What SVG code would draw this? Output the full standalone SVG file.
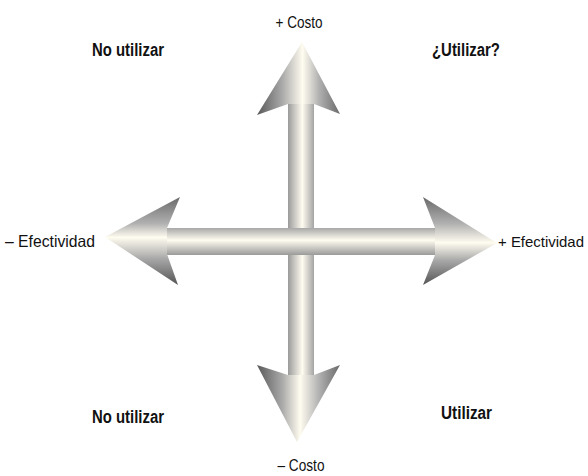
<svg xmlns="http://www.w3.org/2000/svg" width="588" height="476" viewBox="0 0 588 476">
<defs>
<linearGradient id="vShaft" gradientUnits="userSpaceOnUse" x1="288" y1="0" x2="314" y2="0">
<stop offset="0" stop-color="#9a9a9a"/><stop offset="0.55" stop-color="#fffcf0"/><stop offset="1" stop-color="#a4a4a4"/>
</linearGradient>
<linearGradient id="hShaft" gradientUnits="userSpaceOnUse" x1="0" y1="228" x2="0" y2="255">
<stop offset="0" stop-color="#a8a8a8"/><stop offset="0.45" stop-color="#fffcf0"/><stop offset="1" stop-color="#9a9a9a"/>
</linearGradient>
<linearGradient id="upHead" gradientUnits="userSpaceOnUse" x1="257" y1="0" x2="340" y2="0">
<stop offset="0" stop-color="#595959"/><stop offset="0.3" stop-color="#a8a8a8"/><stop offset="0.55" stop-color="#fffcf0"/><stop offset="0.75" stop-color="#b0b0b0"/><stop offset="1" stop-color="#6a6a6a"/>
</linearGradient>
<linearGradient id="downHead" gradientUnits="userSpaceOnUse" x1="257" y1="0" x2="340" y2="0">
<stop offset="0" stop-color="#595959"/><stop offset="0.3" stop-color="#a8a8a8"/><stop offset="0.52" stop-color="#fffcf0"/><stop offset="0.75" stop-color="#b0b0b0"/><stop offset="1" stop-color="#6a6a6a"/>
</linearGradient>
<linearGradient id="leftHead" gradientUnits="userSpaceOnUse" x1="0" y1="197" x2="0" y2="285">
<stop offset="0" stop-color="#6a6a6a"/><stop offset="0.3" stop-color="#b0b0b0"/><stop offset="0.46" stop-color="#fffcf0"/><stop offset="0.7" stop-color="#a8a8a8"/><stop offset="1" stop-color="#555555"/>
</linearGradient>
<linearGradient id="rightHead" gradientUnits="userSpaceOnUse" x1="0" y1="197" x2="0" y2="285">
<stop offset="0" stop-color="#6a6a6a"/><stop offset="0.3" stop-color="#b0b0b0"/><stop offset="0.52" stop-color="#fffcf0"/><stop offset="0.72" stop-color="#a8a8a8"/><stop offset="1" stop-color="#555555"/>
</linearGradient>
</defs>
<style>
.lbl{font-family:"Liberation Sans",Arial,sans-serif;font-size:16.5px;fill:#111}
.bold{font-weight:bold;font-size:17.5px}
.edge{font-size:15px}
</style>
<g id="connectors">
<g id="vertical-axis">
<rect x="288" y="100" width="26" height="280" fill="url(#vShaft)"/>
<polygon points="302,42 340,114 314,104 288,104 257,115" fill="url(#upHead)"/>
<polygon points="297,442 257,365 288,375 314,375 340,365" fill="url(#downHead)"/>
</g>
<g id="horizontal-axis">
<rect x="163" y="228" width="276" height="27" fill="url(#hShaft)"/>
<polygon points="105,237 180,197 167,228 167,254 178,285" fill="url(#leftHead)"/>
<polygon points="497,243 423,197 435,228 435,255 423,285" fill="url(#rightHead)"/>
</g>
</g>
<g id="label-mas-costo"><text class="lbl" x="299" y="28" text-anchor="middle" textLength="47" lengthAdjust="spacingAndGlyphs">+ Costo</text></g>
<g id="label-menos-costo"><text class="lbl" x="301" y="471" text-anchor="middle" textLength="47" lengthAdjust="spacingAndGlyphs">– Costo</text></g>
<g id="label-menos-efectividad"><text class="lbl" x="5" y="247" textLength="90" lengthAdjust="spacingAndGlyphs">– Efectividad</text></g>
<g id="label-mas-efectividad"><text class="lbl edge" x="498" y="247" textLength="86" lengthAdjust="spacingAndGlyphs">+ Efectividad</text></g>
<g id="quad-top-left"><text class="lbl bold" x="92" y="56" textLength="72" lengthAdjust="spacingAndGlyphs">No utilizar</text></g>
<g id="quad-top-right"><text class="lbl bold" x="432" y="56" textLength="68" lengthAdjust="spacingAndGlyphs">¿Utilizar?</text></g>
<g id="quad-bottom-left"><text class="lbl bold" x="92" y="423" textLength="72" lengthAdjust="spacingAndGlyphs">No utilizar</text></g>
<g id="quad-bottom-right"><text class="lbl bold" x="441" y="419" textLength="51" lengthAdjust="spacingAndGlyphs">Utilizar</text></g>
</svg>
